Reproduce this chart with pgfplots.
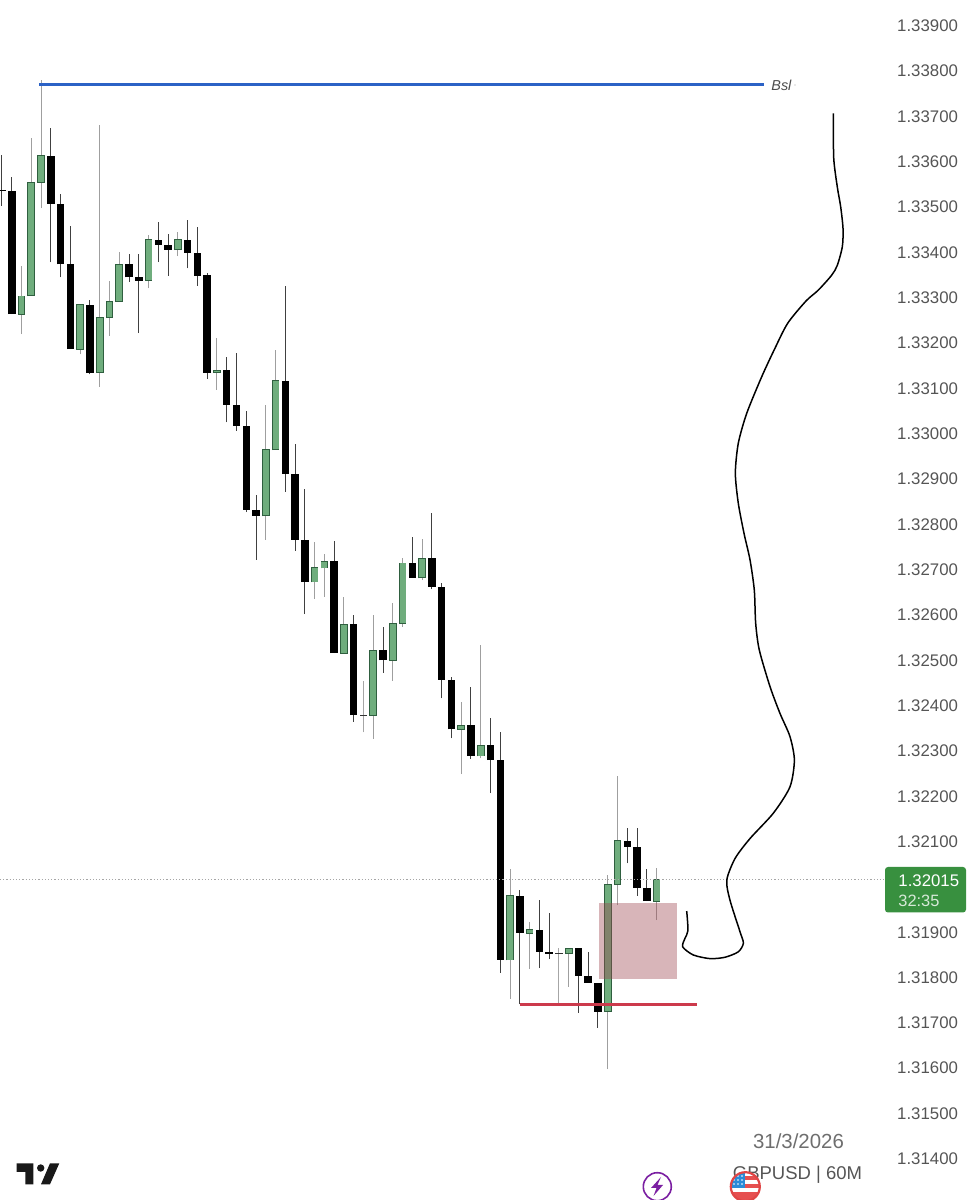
\documentclass[border=0pt]{standalone}
\usepackage{pgfplots}
\usepackage{pgfplotstable}
\usepackage{fontspec}
\setmainfont{Liberation Sans}
\pgfplotsset{compat=1.18}
\definecolor{upfill}{HTML}{6FAD7D}
\definecolor{upedge}{HTML}{2F5F3F}
\definecolor{bslblue}{HTML}{2B62C6}
\definecolor{slred}{HTML}{CC3A4C}
\definecolor{zonefill}{HTML}{9D4650}
\definecolor{labelgray}{HTML}{555555}
\definecolor{taggreen}{HTML}{38903F}
\pgfplotstableread{
i open high low close
2 1.33262 1.33369 1.33218 1.33302
3 1.33303 1.33651 1.33303 1.33553
4 1.33553 1.33779 1.33496 1.33612
8 1.33185 1.33283 1.33173 1.33283
10 1.33133 1.33679 1.33102 1.33254
11 1.33254 1.33335 1.33214 1.33290
12 1.33290 1.33399 1.33290 1.33372
15 1.33336 1.33437 1.33319 1.33426
18 1.33404 1.33444 1.33390 1.33426
22 1.33133 1.33209 1.33095 1.33138
27 1.32817 1.33062 1.32764 1.32963
28 1.32963 1.33183 1.32963 1.33115
32 1.32671 1.32760 1.32634 1.32702
33 1.32702 1.32732 1.32639 1.32716
35 1.32514 1.32639 1.32514 1.32578
38 1.32377 1.32598 1.32325 1.32520
40 1.32498 1.32625 1.32453 1.32579
41 1.32579 1.32724 1.32572 1.32713
43 1.32680 1.32765 1.32675 1.32723
47 1.32346 1.32406 1.32247 1.32355
49 1.32287 1.32533 1.32282 1.32311
52 1.31837 1.32038 1.31751 1.31979
54 1.31896 1.31920 1.31817 1.31904
58 1.31851 1.31863 1.31778 1.31863
62 1.31723 1.32025 1.31596 1.32004
63 1.32003 1.32243 1.31958 1.32100
67 1.31967 1.32040 1.31925 1.32014
}\upT
\pgfplotstableread{
i open high low close
0 1.33537 1.33613 1.33501 1.33534
1 1.33534 1.33564 1.33262 1.33262
5 1.33612 1.33672 1.33376 1.33506
6 1.33506 1.33528 1.33343 1.33372
7 1.33372 1.33457 1.33185 1.33185
9 1.33283 1.33293 1.33129 1.33132
13 1.33372 1.33394 1.33334 1.33343
14 1.33343 1.33394 1.33220 1.33336
16 1.33426 1.33465 1.33377 1.33415
17 1.33415 1.33439 1.33347 1.33404
19 1.33426 1.33469 1.33363 1.33397
20 1.33397 1.33455 1.33325 1.33347
21 1.33348 1.33353 1.33120 1.33133
23 1.33138 1.33168 1.33023 1.33062
24 1.33062 1.33176 1.33005 1.33016
25 1.33016 1.33049 1.32825 1.32830
26 1.32830 1.32863 1.32720 1.32817
29 1.33115 1.33324 1.32870 1.32909
30 1.32909 1.32976 1.32740 1.32764
31 1.32764 1.32876 1.32600 1.32671
34 1.32717 1.32761 1.32514 1.32514
36 1.32578 1.32599 1.32363 1.32377
39 1.32520 1.32572 1.32471 1.32498
42 1.32713 1.32770 1.32680 1.32680
44 1.32724 1.32824 1.32655 1.32661
45 1.32661 1.32668 1.32414 1.32455
46 1.32455 1.32462 1.32326 1.32346
48 1.32355 1.32440 1.32281 1.32287
50 1.32311 1.32372 1.32205 1.32278
51 1.32278 1.32339 1.31809 1.31837
53 1.31979 1.31991 1.31739 1.31896
55 1.31904 1.31969 1.31819 1.31855
56 1.31855 1.31941 1.31839 1.31851
59 1.31863 1.31863 1.31721 1.31802
60 1.31802 1.31854 1.31787 1.31787
61 1.31787 1.31787 1.31688 1.31723
64 1.32100 1.32128 1.32050 1.32087
65 1.32087 1.32128 1.31979 1.31996
66 1.31996 1.32038 1.31967 1.31967
}\downT
\pgfplotstableread{
i open high low close
37 1.32378 1.32453 1.32339 1.32376
57 1.31853 1.31863 1.31739 1.31851
}\dojiT
\pgfplotsset{
  vbar/.style n args={2}{draw=none, mark=none, forget plot,
    error bars/.cd, y dir=both, y explicit, error mark=none,
    error bar style={draw=#1, line width=#2, solid}},
}
\begin{document}
\begin{tikzpicture}
\begin{axis}[
  scale only axis, width=485.5pt, height=600pt,
  xmin=-0.2047, xmax=99.18, ymin=1.313074, ymax=1.339552,
  axis line style={draw=none}, tick style={draw=none},
  xtick=\empty,
  ytick={1.314,1.315,1.316,1.317,1.318,1.319,1.321,1.322,1.323,1.324,1.325,1.326,1.327,1.328,1.329,1.330,1.331,1.332,1.333,1.334,1.335,1.336,1.337,1.338,1.339},
  yticklabel pos=right,
  major tick length=0pt,
  yticklabel style={anchor=east, xshift=-3pt, yshift=-0.4pt, font=\fontsize{8.4pt}{10pt}\selectfont, text=labelgray,
    /pgf/number format/.cd, fixed, fixed zerofill, precision=5, assume math mode=true},
  scaled y ticks=false,
]
% wicks
\addplot[vbar={gray!75}{0.5pt}] table[x=i, y=low, y error plus expr=\thisrow{high}-\thisrow{low}, y error minus expr=0] {\upT};
\addplot[vbar={black!75}{0.5pt}] table[x=i, y=low, y error plus expr=\thisrow{high}-\thisrow{low}, y error minus expr=0] {\downT};
\addplot[vbar={gray!70}{0.5pt}] table[x=i, y=low, y error plus expr=\thisrow{high}-\thisrow{low}, y error minus expr=0] {\dojiT};
% bodies
\addplot[vbar={upedge}{3.85pt}] table[x=i, y expr=\thisrow{open}-0.00001, y error plus expr=\thisrow{close}-\thisrow{open}+0.00002, y error minus expr=0] {\upT};
\addplot[vbar={upfill}{2.95pt}] table[x=i, y expr=\thisrow{open}+0.00001, y error plus expr=\thisrow{close}-\thisrow{open}-0.00002, y error minus expr=0] {\upT};
\addplot[vbar={black}{3.75pt}] table[x=i, y=close, y error plus expr=\thisrow{open}-\thisrow{close}, y error minus expr=0] {\downT};
\addplot[vbar={black!80}{3.75pt}] table[x=i, y=close, y error plus expr=\thisrow{open}-\thisrow{close}, y error minus expr=0] {\dojiT};
% current price line
\addplot[gray!70, line width=0.4pt, dash pattern=on 0.6pt off 1pt] coordinates {(-0.2047,1.32015)(90.27,1.32015)};
% zone
\addplot[draw=none, fill=zonefill, fill opacity=0.4] coordinates {(61.14,1.31794)(69.06,1.31794)(69.06,1.31963)(61.14,1.31963)} -- cycle;
% levels
\addplot[bslblue, line width=1.4pt] coordinates {(3.79,1.33769)(78.0,1.33769)};
\addplot[slred, line width=1.3pt] coordinates {(52.99,1.31739)(71.1,1.31739)};
% hand drawn path
\addplot[black, line width=0.75pt, smooth, tension=0.45] coordinates {
(85.09,1.33705)(85.13,1.33606)(85.50,1.33542)(85.84,1.33499)(86.08,1.33451)(86.01,1.33411)
(85.50,1.33370)(84.92,1.33348)(83.55,1.33315)(82.29,1.33291)(80.42,1.33242)(79.12,1.33187)
(77.76,1.33124)(76.22,1.33043)(75.36,1.32977)(75.06,1.32911)(75.36,1.32845)(75.95,1.32778)
(76.56,1.32720)(77.00,1.32653)(77.14,1.32580)(77.51,1.32521)(78.61,1.32440)(79.63,1.32381)
(80.65,1.32330)(81.10,1.32278)(80.65,1.32219)(78.95,1.32161)(76.56,1.32105)(75.03,1.32061)
(74.18,1.32013)(74.51,1.31969)(75.54,1.31899)(75.88,1.31874)(75.36,1.31855)(74.00,1.31843)
(72.47,1.31840)(70.76,1.31848)(69.67,1.31866)(69.91,1.31885)(70.21,1.31902)(70.08,1.31945)};
\end{axis}
\begin{scope}[x=0.5pt, y=-0.5pt, yshift=600pt]
\clip (0,0) rectangle (971,1200);
% Bsl label
\node[anchor=west, inner sep=0pt, text=black!70, font=\fontsize{7.2pt}{9pt}\selectfont\itshape] at (771,85) {Bsl};
\fill[gray!70] (795,85) circle (0.6);
% price tag
\fill[taggreen, rounded corners=1.5pt] (885,867) rectangle (966,912.5);
\node[anchor=west, inner sep=0pt, text=white, font=\fontsize{8.4pt}{10pt}\selectfont] at (898,880.5) {1.32015};
\node[anchor=west, inner sep=0pt, text=white!80!taggreen, font=\fontsize{8.2pt}{10pt}\selectfont] at (898,900.5) {32:35};
% footer text
\node[inner sep=0pt, text=labelgray!85, font=\fontsize{10.2pt}{12pt}\selectfont] at (798.5,1141) {31/3/2026};
\node[inner sep=0pt, text=labelgray, font=\fontsize{9.25pt}{11pt}\selectfont] at (797.5,1175) {GBPUSD | 60M};
% logo
\fill[black!90] (16.7,1163.3) -- (33.3,1163.3) -- (33.3,1184.3) -- (25.3,1184.3) -- (25.3,1172) -- (16.7,1172) -- cycle;
\fill[black!90] (40.7,1168) circle (3.7);
\fill[black!90] (50,1163.3) -- (59.3,1163.3) -- (50,1184.3) -- (41,1184.3) -- cycle;
% bolt icon
\fill[white] (657.3,1186.7) circle (14.5);
\draw[color={rgb,255:red,123;green,31;blue,162}, line width=0.8pt] (657.3,1186.7) circle (14);
\fill[color={rgb,255:red,123;green,31;blue,162}] (661,1177) -- (651,1188) -- (656.5,1188) -- (653.5,1196) -- (663,1185) -- (657.5,1185) -- cycle;
% flag icon
\begin{scope}
\clip (745.3,1186.7) circle (14);
\fill[white] (730,1170) rectangle (762,1202);
\fill[color={rgb,255:red,230;green,80;blue,80}] (745,1176) rectangle (762,1180);
\fill[color={rgb,255:red,230;green,80;blue,80}] (745,1184) rectangle (762,1188);
\fill[color={rgb,255:red,230;green,80;blue,80}] (730,1192) rectangle (762,1202);
\fill[color={rgb,255:red,42;green,139;blue,216}] (730,1170) rectangle (745,1188);
\foreach \xx in {734,738,742} \foreach \yy in {1176,1180,1184} \fill[white] (\xx,\yy) circle (0.8);
\end{scope}
\draw[color={rgb,255:red,224;green,70;blue,70}, line width=1.1pt] (745.3,1186.7) circle (14.5);
\end{scope}
\end{tikzpicture}
\end{document}
